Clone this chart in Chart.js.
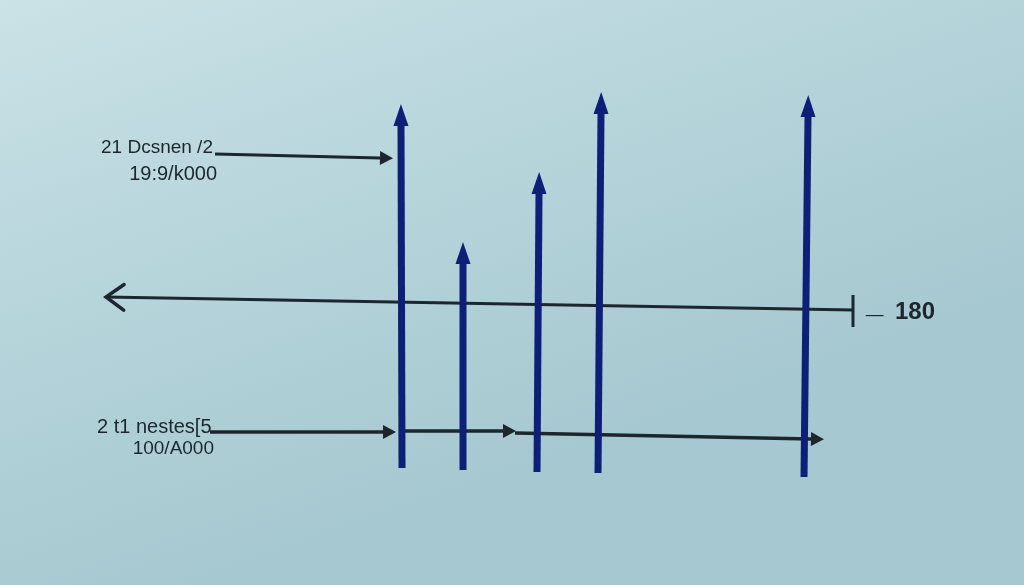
<!DOCTYPE html>
<html>
<head>
<meta charset="utf-8">
<script src="https://cdn.jsdelivr.net/npm/chart.js@4/dist/chart.umd.min.js"></script>
<style>
  html, body { margin: 0; padding: 0; overflow: hidden; }
  #wrap { width: 1024px; height: 585px; }
</style>
</head>
<body>
<div id="wrap"><canvas id="chart"></canvas></div>
<script>
// vertical arrows (x at base / at top, base value, shaft top value)
let barXBase = [402, 463, 537, 598, 804];
let barXTop = [401, 463, 539, 601, 808];
let barBase = [468, 470, 472, 473, 477];
let barTop = [126, 264, 194, 114, 117];

// horizontal arrows: start x/y, end x/y
let hStartX = [215, 210, 405, 515];
let hStartY = [154, 432, 431, 433];
let hEndX = [380, 383, 503, 811];
let hEndY = [158, 432, 431, 439];

// long reference line with open arrow at left and end tick at right
let refX = [853, 106];
let refY = [310, 297];
let tickX = [853, 853];
let tickY = [295, 327];

let labelTexts = ['21 Dcsnen /2', '19:9/k000', '2 t1 nestes[5', '100/A000', '180'];
let labelX = [101, 217, 97, 214, 895];
let labelY = [153, 180, 433, 454, 319];
let labelAlign = ['left', 'right', 'left', 'right', 'left'];
let labelSize = [19, 20, 20, 19, 24];

let navy = '#0e1f78';
let ink = '#1c262c';

let datasets = [];
barXBase.forEach((x, i) => {
    datasets.push({
        data: [{x: x, y: barBase[i]}, {x: barXTop[i], y: barTop[i]}],
        borderColor: navy,
        borderWidth: 7,
        showLine: true,
        pointRadius: 0,
        arrow: {type: 'filled', len: 22, half: 7.5, color: navy}
    });
});
hStartX.forEach((x, i) => {
    datasets.push({
        data: [{x: x, y: hStartY[i]}, {x: hEndX[i], y: hEndY[i]}],
        borderColor: ink,
        borderWidth: i == 0 ? 3 : 3.5,
        showLine: true,
        pointRadius: 0,
        arrow: {type: 'filled', len: 13, half: 7, color: ink}
    });
});
datasets.push({
    data: [{x: refX[0], y: refY[0]}, {x: refX[1], y: refY[1]}],
    borderColor: ink,
    borderWidth: 3,
    showLine: true,
    pointRadius: 0,
    arrow: {type: 'open', len: 22, angle: 0.62, color: ink}
});
datasets.push({
    data: [{x: tickX[0], y: tickY[0]}, {x: tickX[1], y: tickY[1]}],
    borderColor: ink,
    borderWidth: 3,
    showLine: true,
    pointRadius: 0
});

let background = {
    id: 'background',
    beforeDraw(chart) {
        let c = chart.ctx, w = chart.width, h = chart.height;
        let g = c.createLinearGradient(0, 0, w * 0.2, h);
        g.addColorStop(0, '#cbe2e6');
        g.addColorStop(0.45, '#b8d6dc');
        g.addColorStop(1, '#a6c8d0');
        c.save();
        c.fillStyle = g;
        c.fillRect(0, 0, w, h);
        c.restore();
    }
};

let arrows = {
    id: 'arrows',
    afterDatasetsDraw(chart) {
        let c = chart.ctx;
        chart.data.datasets.forEach((ds, i) => {
            if (!ds.arrow) return;
            let pts = chart.getDatasetMeta(i).data;
            let a = pts[pts.length - 2], b = pts[pts.length - 1];
            let ang = Math.atan2(b.y - a.y, b.x - a.x);
            let ar = ds.arrow;
            c.save();
            c.translate(b.x, b.y);
            c.rotate(ang);
            if (ar.type == 'filled') {
                c.fillStyle = ar.color;
                c.beginPath();
                c.moveTo(ar.len, 0);
                c.lineTo(0, -ar.half);
                c.lineTo(0, ar.half);
                c.closePath();
                c.fill();
            } else {
                c.strokeStyle = ar.color;
                c.lineWidth = 3.5;
                c.lineCap = 'round';
                c.beginPath();
                c.moveTo(-ar.len * Math.cos(ar.angle), -ar.len * Math.sin(ar.angle));
                c.lineTo(0, 0);
                c.lineTo(-ar.len * Math.cos(ar.angle), ar.len * Math.sin(ar.angle));
                c.stroke();
            }
            c.restore();
        });
    }
};

let labels = {
    id: 'labels',
    afterDraw(chart) {
        let c = chart.ctx;
        let xs = chart.scales.x, ys = chart.scales.y;
        c.save();
        c.fillStyle = ink;
        c.textBaseline = 'alphabetic';
        labelTexts.forEach((t, i) => {
            let weight = i == 4 ? '600 ' : '';
            c.font = weight + labelSize[i] + 'px "Liberation Sans", Arial, sans-serif';
            c.textAlign = labelAlign[i];
            c.fillText(t, xs.getPixelForValue(labelX[i]), ys.getPixelForValue(labelY[i]));
        });
        c.font = '600 31px "Liberation Sans", Arial, sans-serif';
        c.textAlign = 'left';
        c.fillText('_', xs.getPixelForValue(866), ys.getPixelForValue(312));
        c.restore();
    }
};

let ctx = document.getElementById('chart').getContext('2d');

let myChart = new Chart(ctx, {
    type: 'scatter',
    data: {datasets: datasets},
    options: {
        responsive: true,
        maintainAspectRatio: false,
        animation: false,
        layout: {padding: 0},
        plugins: {legend: {display: false}, tooltip: {enabled: false}},
        elements: {line: {tension: 0}},
        scales: {
            x: {type: 'linear', min: 0, max: 1024, display: false},
            y: {type: 'linear', min: 0, max: 585, reverse: true, display: false}
        }
    },
    plugins: [background, arrows, labels]
});
</script>
</body>
</html>
